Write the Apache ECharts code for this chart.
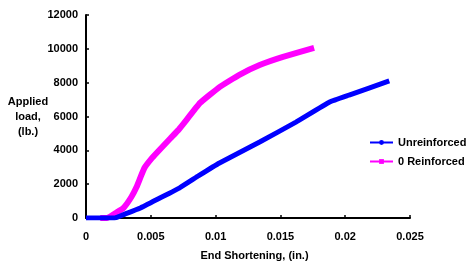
<!DOCTYPE html>
<html>
<head>
<meta charset="utf-8">
<script src="https://cdn.jsdelivr.net/npm/echarts@6/dist/echarts.min.js"></script>
<style>
  html, body { margin: 0; padding: 0; background: #fff; }
  #chart { width: 466px; height: 264px; }
</style>
</head>
<body>
<div id="chart"></div>
<script>
// values: [end shortening (in.), load (lb.)]
var unreinforced = [
  [0, 0], [0.0022, 0], [0.0030, 230], [0.0042, 590],
  [0.0057, 1180], [0.0072, 1770], [0.0087, 2500], [0.0103, 3250],
  [0.0134, 4490], [0.0162, 5670], [0.0188, 6860], [0.0203, 7270],
  [0.0234, 8100]
];
var reinforced0 = [
  [0.0011, 0], [0.0016, 0], [0.0024, 350], [0.0029, 600], [0.0035, 1240],
  [0.0039, 1830], [0.0042, 2400], [0.0045, 2950], [0.0051, 3550],
  [0.0057, 4050], [0.0065, 4700], [0.0071, 5180], [0.0075, 5550],
  [0.0088, 6800], [0.0103, 7740], [0.0118, 8450], [0.0134, 9040],
  [0.0152, 9520], [0.0176, 10050]
];
var seriesNames = ['Unreinforced', '0 Reinforced'];
var xTicks = [0, 0.005, 0.01, 0.015, 0.02, 0.025];
var yTicks = [0, 2000, 4000, 6000, 8000, 10000, 12000];

var myChart = echarts.init(document.getElementById('chart'));

var labelFont = {
  color: '#000',
  fontFamily: 'Liberation Sans, Arial, sans-serif',
  fontWeight: 'bold',
  fontSize: 11
};

var option = {
  backgroundColor: '#fff',
  animation: false,
  grid: { left: 86, right: 56, top: 15, bottom: 46, outerBoundsMode: 'none', containLabel: false },
  legend: {
    orient: 'vertical',
    left: 369,
    top: 137,
    padding: 0,
    itemWidth: 23,
    itemHeight: 6,
    itemGap: 8,
    lineStyle: { width: 2 },
    textStyle: labelFont,
    data: seriesNames
  },
  xAxis: {
    type: 'value',
    min: xTicks[0],
    max: xTicks[xTicks.length - 1],
    interval: 0.005,
    name: 'End Shortening, (in.)',
    nameLocation: 'middle',
    nameGap: 32,
    nameMoveOverlap: false,
    nameTextStyle: Object.assign({ padding: [0, 0, 0, 13] }, labelFont),
    splitLine: { show: false },
    axisLine: { lineStyle: { color: '#000', width: 2 } },
    axisTick: { inside: true, length: 3, lineStyle: { color: '#000', width: 1.5 } },
    axisLabel: Object.assign({ margin: 13 }, labelFont)
  },
  yAxis: {
    type: 'value',
    min: yTicks[0],
    max: yTicks[yTicks.length - 1],
    interval: 2000,
    name: 'Applied\nload,\n(lb.)',
    nameLocation: 'middle',
    nameRotate: 0,
    nameGap: 58,
    nameMoveOverlap: false,
    nameTextStyle: Object.assign({ lineHeight: 15, align: 'center', padding: [4, 0, 0, 0] }, labelFont),
    splitLine: { show: false },
    axisLine: { show: true, lineStyle: { color: '#000', width: 2 } },
    axisTick: { show: true, inside: true, length: 3, lineStyle: { color: '#000', width: 1.5 } },
    axisLabel: Object.assign({ margin: 8, formatter: function (v) { return String(v); } }, labelFont)
  },
  series: [
    {
      name: seriesNames[0],
      type: 'line',
      data: unreinforced,
      color: '#0000ff',
      symbol: 'circle',
      symbolSize: 5,
      showSymbol: false,
      smooth: 0.1,
      lineStyle: { width: 5, color: '#0000ff' },
      z: 3
    },
    {
      name: seriesNames[1],
      type: 'line',
      data: reinforced0,
      color: '#ff00ff',
      symbol: 'rect',
      symbolSize: 5,
      showSymbol: false,
      smooth: 0.1,
      lineStyle: { width: 6, color: '#ff00ff' },
      z: 2
    }
  ]
};

myChart.setOption(option);
</script>
</body>
</html>
